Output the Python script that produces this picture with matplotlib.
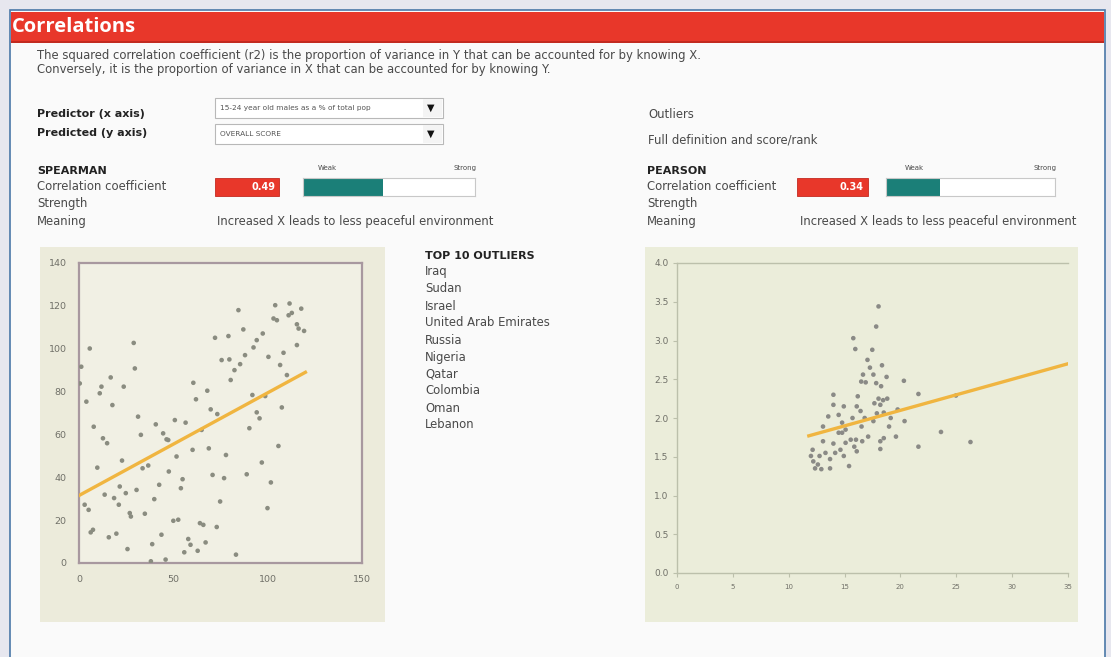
import numpy as np
import matplotlib
matplotlib.use("Agg")
import matplotlib.pyplot as plt
from matplotlib.patches import Rectangle

W, H = 1111, 657
plt.rcParams['font.family'] = ['DejaVu Sans']

# ---- data ----
spear_x = [1.2, 0.4, 5.7, 3.9, 7.8, 11.9, 11.0, 16.8, 17.7, 12.7, 14.9, 23.7, 29.0, 29.6, 31.3,
           32.8, 22.8, 9.7, 3.0, 5.1, 7.4, 6.2, 13.6, 18.6, 21.1, 21.6, 24.8, 26.9, 27.5, 30.5,
           34.9, 15.8, 19.8, 25.7, 33.7, 36.7, 39.9, 40.7, 42.5, 44.6, 46.4, 47.3, 47.6, 50.8,
           51.7, 56.5, 54.9, 54.0, 50.0, 52.6, 38.8, 43.7, 38.1, 45.9, 55.8, 57.9, 59.1, 62.9,
           60.2, 60.6, 62.0, 65.0, 64.1, 65.9, 67.1, 68.0, 68.8, 70.8, 69.8, 73.3, 72.1, 73.0,
           74.8, 75.6, 76.9, 77.9, 79.2, 79.7, 80.4, 82.4, 83.2, 84.5, 85.4, 87.1, 88.0, 90.3,
           88.9, 92.5, 91.9, 94.2, 94.2, 95.7, 97.4, 96.9, 98.7, 100.4, 99.9, 101.7, 104.0, 103.1,
           104.9, 106.6, 108.4, 107.5, 105.7, 110.2, 111.6, 111.1, 112.8, 115.5, 117.8, 116.4,
           119.3, 115.5]
spear_y = [91.6, 83.8, 100.1, 75.3, 63.6, 82.3, 79.2, 86.6, 73.7, 58.2, 55.9, 82.3, 102.7, 90.8, 68.3,
           59.8, 47.8, 44.5, 27.2, 24.8, 15.5, 14.3, 31.9, 30.3, 27.2, 35.7, 32.6, 23.3, 21.7, 34.1,
           23.0, 12.0, 13.7, 6.5, 44.2, 45.5, 29.8, 64.7, 36.5, 60.5, 57.7, 57.4, 42.7, 66.7,
           49.7, 65.5, 39.1, 34.9, 19.7, 20.2, 8.8, 13.2, 0.8, 1.6, 5.0, 11.2, 8.5, 5.7,
           52.8, 84.1, 76.4, 62.1, 18.6, 17.8, 9.6, 80.4, 53.5, 41.1, 71.7, 69.5, 105.1, 16.8,
           28.7, 94.7, 39.6, 50.4, 105.9, 95.0, 85.4, 90.0, 3.9, 118.0, 92.8, 109.0, 97.0, 62.9,
           41.4, 100.6, 78.4, 104.0, 70.3, 67.5, 107.1, 46.9, 77.9, 96.2, 25.6, 37.6, 120.3, 114.1,
           113.3, 92.4, 98.1, 72.6, 54.6, 87.7, 121.1, 115.6, 116.7, 111.4, 118.7, 109.4,
           108.3, 101.7]
spear_trend_x = [0, 120]
spear_trend_y = [31.5, 89.0]

pear_x = [18.04, 17.83, 15.78, 15.96, 17.48, 17.05, 17.27, 18.35, 16.65, 17.58, 18.76, 16.49, 16.89,
          17.83, 20.31, 18.27, 14.0, 16.18, 21.61, 24.97, 18.04, 18.45, 18.82, 17.67, 18.2, 14.0,
          14.93, 16.09, 16.43, 19.75, 17.89, 18.51, 13.54, 14.47, 15.71, 16.8, 17.58, 19.13, 20.37,
          14.78, 16.52, 13.07, 18.98, 14.78, 23.63, 17.11, 18.51, 19.6, 16.02, 16.58, 18.2, 26.27,
          13.07, 14.0, 15.09, 15.87, 21.61, 12.14, 14.63, 18.2, 16.09, 11.99, 12.76, 13.7, 14.93,
          12.2, 12.61, 13.7, 15.4, 12.36, 12.92, 13.29, 14.16, 14.47, 15.09, 15.55]
pear_y = [3.44, 3.18, 3.03, 2.89, 2.88, 2.75, 2.65, 2.68, 2.56, 2.56, 2.53, 2.47, 2.46,
          2.45, 2.48, 2.41, 2.30, 2.28, 2.31, 2.29, 2.25, 2.23, 2.25, 2.19, 2.17, 2.17,
          2.15, 2.15, 2.09, 2.11, 2.06, 2.07, 2.02, 2.04, 2.00, 2.00, 1.96, 2.00, 1.96,
          1.94, 1.89, 1.89, 1.89, 1.81, 1.82, 1.76, 1.74, 1.76, 1.72, 1.70, 1.70, 1.69,
          1.70, 1.67, 1.68, 1.63, 1.63, 1.59, 1.59, 1.60, 1.57, 1.51, 1.51, 1.47, 1.51,
          1.44, 1.40, 1.35, 1.38, 1.35, 1.34, 1.55, 1.55, 1.81, 1.85, 1.72]
pear_trend_x = [11.8, 35]
pear_trend_y = [1.77, 2.70]

outliers = ['Iraq', 'Sudan', 'Israel', 'United Arab Emirates', 'Russia', 'Nigeria',
            'Qatar', 'Colombia', 'Oman', 'Lebanon']
spearman_r = 0.49
pearson_r = 0.34

fig = plt.figure(figsize=(W / 100, H / 100), dpi=100, facecolor='#e7e7ef')


def frac_box(x0, y0, x1, y1):
    # pixel box (origin top-left) -> figure fraction [l, b, w, h]
    return [x0 / W, 1 - y1 / H, (x1 - x0) / W, (y1 - y0) / H]


def rect(x0, y0, x1, y1, z=-5, **kw):
    l, b, w, h = frac_box(x0, y0, x1, y1)
    fig.patches.append(Rectangle((l, b), w, h, transform=fig.transFigure, figure=fig,
                                 zorder=z, **kw))


def txt(x, y, s, **kw):
    kw.setdefault('color', '#4a4a4a')
    kw.setdefault('fontsize', 8.4)
    fig.text(x / W, 1 - y / H, s, va='center', **kw)


# page panel + header
rect(10, 10, 1105, 670, facecolor='#fafafa', edgecolor='#4a78a8', lw=1.2, z=-10)
rect(11, 12, 1104, 42, facecolor='#e8372a', edgecolor='none', z=-9)
rect(11, 41, 1104, 43, facecolor='#c22a20', edgecolor='none', z=-9)
txt(12, 27, 'Correlations', color='white', fontsize=14.5, fontweight='bold',
    family=['Open Sans', 'DejaVu Sans'])

txt(37, 55, 'The squared correlation coefficient (r2) is the proportion of variance in Y that can be accounted for by knowing X.')
txt(37, 70, 'Conversely, it is the proportion of variance in X that can be accounted for by knowing Y.')

# selectors
txt(37, 114, 'Predictor (x axis)', fontweight='bold', color='#222222', fontsize=8)
txt(37, 133, 'Predicted (y axis)', fontweight='bold', color='#222222', fontsize=8)
for (y0, y1, label) in [(98, 118, '15-24 year old males as a % of total pop'), (124, 144, 'OVERALL SCORE')]:
    rect(215, y0, 443, y1, facecolor='white', edgecolor='#b8b8b8', lw=0.8, z=-4)
    rect(423, y0 + 1, 442, y1 - 1, facecolor='#f4f4f4', edgecolor='none', z=-3)
    txt(220, (y0 + y1) / 2, label, fontsize=5.3, color='#555555')
    txt(427, (y0 + y1) / 2, '\u25BC', fontsize=7, color='#111111')

txt(648, 114, 'Outliers')
txt(648, 140, 'Full definition and score/rank')


def stat_block(x_lab, x_val, w_val, x_bar0, x_bar1, name, r, weak_x, strong_x):
    txt(x_lab, 171, name, fontweight='bold', color='#222222', fontsize=8)
    txt(x_lab, 187, 'Correlation coefficient')
    txt(x_lab, 204, 'Strength')
    txt(x_lab, 221, 'Meaning')
    rect(x_val, 178, x_val + w_val, 196, facecolor='#e8372a', edgecolor='#c42a20', lw=0.6, z=-4)
    txt(x_val + w_val - 4, 187, f'{r:.2f}', color='white', fontsize=7, fontweight='bold', ha='right')
    txt(weak_x, 168, 'Weak', fontsize=5)
    txt(strong_x, 168, 'Strong', fontsize=5)
    ax = fig.add_axes(frac_box(x_bar0, 178, x_bar1, 196))
    ax.barh([0], [r], height=1.0, left=0, color='#1b7f78')
    ax.set_xlim(0, 1.06)
    ax.set_ylim(-0.5, 0.5)
    ax.set_xticks([])
    ax.set_yticks([])
    for s in ax.spines.values():
        s.set_color('#c8c8c8')
        s.set_linewidth(0.8)
    ax.set_facecolor('white')


stat_block(37, 215, 64, 303, 475, 'SPEARMAN', spearman_r, 318, 454)
stat_block(647, 797, 71, 886, 1055, 'PEARSON', pearson_r, 905, 1034)
txt(217, 221, 'Increased X leads to less peaceful environment')
txt(800, 221, 'Increased X leads to less peaceful environment')

# outlier list
txt(425, 256, 'TOP 10 OUTLIERS', fontweight='bold', color='#222222', fontsize=8)
for i, c in enumerate(outliers):
    txt(425, 272 + 17 * i, c)

# chart backgrounds
rect(40, 247, 385, 622, facecolor='#ecebdb', edgecolor='none', z=-4)
rect(645, 247, 1078, 622, facecolor='#ebedda', edgecolor='none', z=-4)

# left scatter (Spearman)
ax1 = fig.add_axes(frac_box(79, 263, 362, 563))
ax1.set_facecolor('#f1f0e4')
ax1.scatter(spear_x, spear_y, s=11, color='#8a8c80', edgecolors='none', zorder=3)
ax1.plot(spear_trend_x, spear_trend_y, color='#f0b540', lw=2.4, zorder=4)
ax1.set_xlim(0, 150)
ax1.set_ylim(0, 140)
ax1.set_xticks([0, 50, 100, 150])
ax1.set_yticks(range(0, 141, 20))
for s in ax1.spines.values():
    s.set_color('#a8989f')
    s.set_linewidth(1.6)
ax1.tick_params(length=0, labelsize=6.8, labelcolor='#707068', pad=9)

# right scatter (Pearson)
ax2 = fig.add_axes(frac_box(677, 263, 1068, 573))
ax2.set_facecolor('#ebedda')
ax2.scatter(pear_x, pear_y, s=11, color='#8a8a86', edgecolors='none', zorder=3)
ax2.plot(pear_trend_x, pear_trend_y, color='#f0b540', lw=2.4, zorder=4)
ax2.set_xlim(0, 35)
ax2.set_ylim(0, 4.0)
ax2.set_xticks(range(0, 36, 5))
ax2.set_yticks(np.arange(0, 4.01, 0.5))
ax2.yaxis.set_major_formatter(matplotlib.ticker.FormatStrFormatter('%.1f'))
ax2.spines['right'].set_visible(False)
for k in ['left', 'bottom', 'top']:
    ax2.spines[k].set_color('#bcc0ab')
    ax2.spines[k].set_linewidth(1.0)
ax2.tick_params(axis='y', length=3, color='#bcc0ab', labelsize=6.5, labelcolor='#707068', pad=3)
ax2.tick_params(axis='x', length=3, color='#bcc0ab', labelsize=5, labelcolor='#707068', pad=5)

fig.savefig('out.png', dpi=100, facecolor=fig.get_facecolor())
